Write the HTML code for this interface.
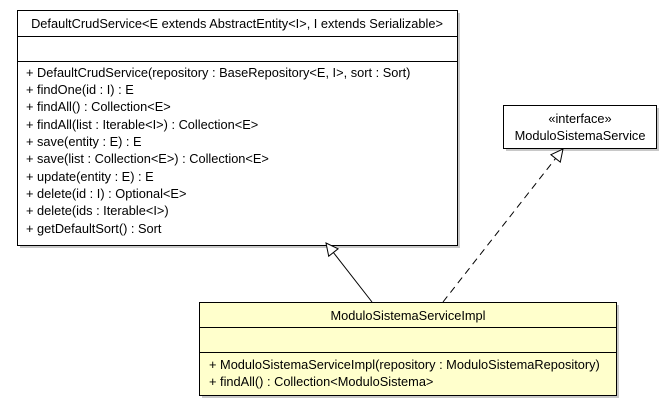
<!DOCTYPE html>
<html><head><meta charset="utf-8"><style>
html,body{margin:0;padding:0;background:#fff;}
svg{display:block;}
text{font-family:"Liberation Sans",Arial,sans-serif;font-size:12.8px;fill:#000;}
</style></head><body>
<svg width="671" height="405" xmlns="http://www.w3.org/2000/svg">
<rect x="20" y="13" width="440" height="235" fill="#c8c8c8"/>
<rect x="506" y="108" width="153" height="43" fill="#c8c8c8"/>
<rect x="202" y="305" width="417" height="93" fill="#c8c8c8"/>
<rect x="17.5" y="10.5" width="440" height="235" fill="#fff" stroke="#000"/>
<line x1="17" y1="36.5" x2="458" y2="36.5" stroke="#000"/>
<line x1="17" y1="61.5" x2="458" y2="61.5" stroke="#000"/>
<text x="237" y="28" text-anchor="middle">DefaultCrudService&lt;E extends AbstractEntity&lt;I&gt;, I extends Serializable&gt;</text>
<text x="26" y="77">+ DefaultCrudService(repository : BaseRepository&lt;E, I&gt;, sort : Sort)</text>
<text x="26" y="94">+ findOne(id : I) : E</text>
<text x="26" y="111">+ findAll() : Collection&lt;E&gt;</text>
<text x="26" y="129">+ findAll(list : Iterable&lt;I&gt;) : Collection&lt;E&gt;</text>
<text x="26" y="146">+ save(entity : E) : E</text>
<text x="26" y="163">+ save(list : Collection&lt;E&gt;) : Collection&lt;E&gt;</text>
<text x="26" y="181">+ update(entity : E) : E</text>
<text x="26" y="198">+ delete(id : I) : Optional&lt;E&gt;</text>
<text x="26" y="215">+ delete(ids : Iterable&lt;I&gt;)</text>
<text x="26" y="233">+ getDefaultSort() : Sort</text>
<rect x="503.5" y="105.5" width="153" height="43" fill="#fff" stroke="#000"/>
<text x="580" y="123" text-anchor="middle">«interface»</text>
<text x="580" y="140" text-anchor="middle">ModuloSistemaService</text>
<rect x="199.5" y="302.5" width="417" height="93" fill="#ffffcc" stroke="#000"/>
<line x1="199" y1="327.5" x2="617" y2="327.5" stroke="#000"/>
<line x1="199" y1="352.5" x2="617" y2="352.5" stroke="#000"/>
<text x="408" y="320" text-anchor="middle">ModuloSistemaServiceImpl</text>
<text x="209" y="369">+ ModuloSistemaServiceImpl(repository : ModuloSistemaRepository)</text>
<text x="209" y="386">+ findAll() : Collection&lt;ModuloSistema&gt;</text>
<line x1="372" y1="302" x2="333.4" y2="252.5" stroke="#000"/>
<polygon points="326,243 338.1,248.8 328.7,256.2" fill="#fff" stroke="#000"/>
<line x1="443" y1="302" x2="555.6" y2="158.4" stroke="#000" stroke-dasharray="7,5"/>
<polygon points="563,149 560.3,162.1 550.9,154.7" fill="#fff" stroke="#000"/>
</svg>
</body></html>
